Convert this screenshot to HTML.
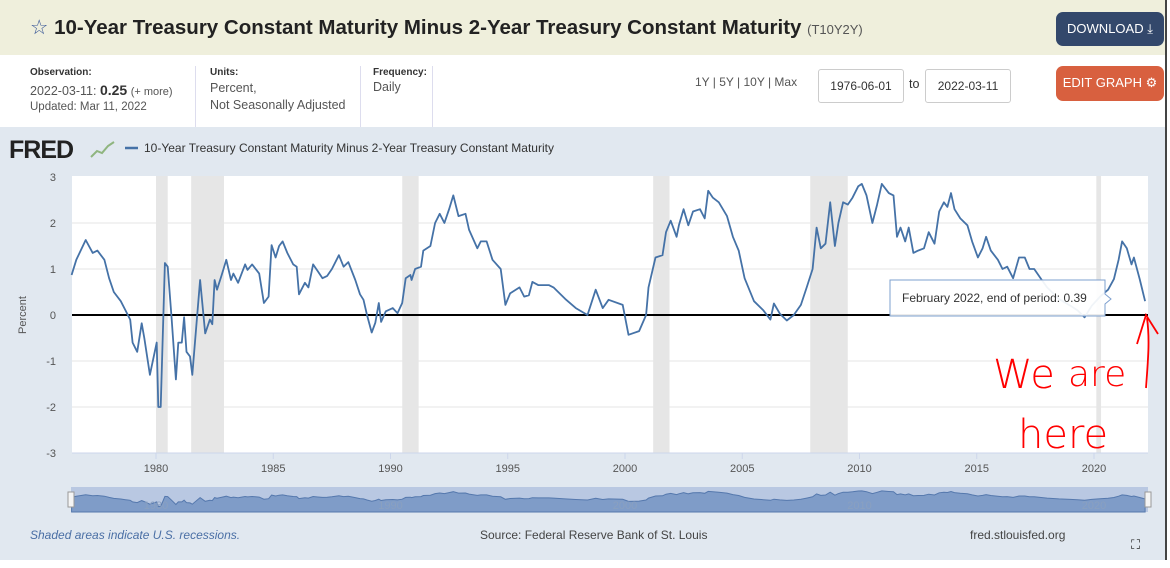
<!DOCTYPE html>
<html><head><meta charset="utf-8"><style>
body{margin:0;width:1170px;height:568px;overflow:hidden;background:#fff;font-family:"Liberation Sans","DejaVu Sans",sans-serif;position:relative}
.abs{position:absolute}
#hdr{left:0;top:0;width:1166px;height:55px;background:#efefdc}
#title{left:30px;top:15px;font-size:20.5px;font-weight:bold;color:#222;white-space:nowrap}
#title small{font-size:13px;font-weight:normal;color:#555}
.btn{color:#fff;font-size:13px;border-radius:7px;text-align:center;line-height:34px}
.lab{font-size:10px;font-weight:bold;color:#333}
.val{font-size:12.5px;color:#555}
.inp{border:1px solid #ccc;border-radius:3px;font-size:12px;color:#333;text-align:center;line-height:32px;height:32px}
#chartbg{left:0;top:127px;width:1166px;height:433px;background:#e1e8f0}
</style></head><body>
<div class="abs" id="hdr"></div>
<div class="abs" id="title"><span style="color:#3b5998;font-weight:normal">☆</span> 10-Year Treasury Constant Maturity Minus 2-Year Treasury Constant Maturity <small>(T10Y2Y)</small></div>
<div class="abs btn" style="left:1056px;top:12px;width:108px;height:34px;background:#33486b">DOWNLOAD ⤓</div>
<div class="abs lab" style="left:30px;top:67px">Observation:</div>
<div class="abs val" style="left:30px;top:82px">2022-03-11: <b style="font-size:14px;color:#333">0.25</b> <span style="font-size:11px">(+ more)</span></div>
<div class="abs val" style="left:30px;top:101px;font-size:11.5px">Updated: Mar 11, 2022</div>
<div class="abs" style="left:195px;top:66px;width:1px;height:61px;background:#dde"></div>
<div class="abs lab" style="left:210px;top:67px">Units:</div>
<div class="abs val" style="left:210px;top:80px;line-height:17px">Percent,<br>Not Seasonally Adjusted</div>
<div class="abs" style="left:360px;top:66px;width:1px;height:61px;background:#dde"></div>
<div class="abs lab" style="left:373px;top:67px">Frequency:</div>
<div class="abs val" style="left:373px;top:80px">Daily</div>
<div class="abs" style="left:432px;top:66px;width:1px;height:61px;background:#dde"></div>
<div class="abs val" style="left:695px;top:75px;font-size:12px">1Y | 5Y | 10Y | Max</div>
<div class="abs inp" style="left:818px;top:69px;width:84px">1976-06-01</div>
<div class="abs val" style="left:909px;top:77px;color:#333">to</div>
<div class="abs inp" style="left:925px;top:69px;width:84px">2022-03-11</div>
<div class="abs btn" style="left:1056px;top:66px;width:108px;height:35px;background:#d8603f">EDIT GRAPH ⚙</div>
<div class="abs" id="chartbg"></div>
<div class="abs" style="left:1165px;top:0;width:2px;height:560px;background:#444"></div>
<svg class="abs" style="left:0;top:0" width="1170" height="568" id="svg">
<text x="9" y="158" font-size="25" font-weight="bold" fill="#222" font-family="Liberation Sans,sans-serif" letter-spacing="-1">FRED</text>
<polyline points="91,157 97,151 102,153 108,146 114,142" fill="none" stroke="#8fb57f" stroke-width="2"/>
<line x1="125" y1="148" x2="138" y2="148" stroke="#4572a7" stroke-width="2.5"/>
<text x="144" y="152" font-size="12" fill="#333">10-Year Treasury Constant Maturity Minus 2-Year Treasury Constant Maturity</text>
<rect x="72" y="176" width="1076" height="277" fill="#fff"/>
<g id="rec"></g><g id="grid"></g><g id="ticks"></g>
<text transform="translate(26,315) rotate(-90)" text-anchor="middle" font-size="11" fill="#555">Percent</text>
<line x1="72" y1="453" x2="1148" y2="453" stroke="#ccd6eb"/>
<line x1="72" y1="315" x2="1148" y2="315" stroke="#000" stroke-width="2"/>
<path id="line" fill="none" stroke="#4572a7" stroke-width="1.8" stroke-linejoin="round"/>
<g>
<path d="M890,280 h215 v14 l6,5 l-6,5 v12 h-215 z" fill="#fff" fill-opacity="0.92" stroke="#7ea0cf"/>
<text x="902" y="302" font-size="12" fill="#333">February 2022, end of period: 0.39</text></g>
<g>
<text x="993" y="388" font-size="40" fill="#f00" font-family="DejaVu Sans,sans-serif" font-weight="200">We</text>
<text x="1068" y="386" font-size="36" fill="#f00" font-family="DejaVu Sans,sans-serif" font-weight="200">are</text>
<text x="1018" y="448" font-size="40" fill="#f00" font-family="DejaVu Sans,sans-serif" font-weight="200">here</text>
<path d="M1146,388 C1148,360 1150,340 1147,318 M1137,344 L1146,315 L1158,334" fill="none" stroke="#f00" stroke-width="1.8"/></g>
<rect x="71" y="487" width="1077" height="25" fill="#b9c8e2"/>
<path id="nav" fill="#7f9cc8" stroke="#5578ad" stroke-width="1"/>
<g id="navlab" font-size="11" fill="#8aa0c0"></g>
<rect x="68" y="492" width="6" height="15" fill="#f5f5f5" stroke="#999"/>
<rect x="1145" y="492" width="6" height="15" fill="#f5f5f5" stroke="#999"/>
<text x="30" y="539" font-size="12" fill="#4a6fa5" font-style="italic">Shaded areas indicate U.S. recessions.</text>
<text x="480" y="539" font-size="12" fill="#444">Source: Federal Reserve Bank of St. Louis</text>
<text x="970" y="539" font-size="12" fill="#444">fred.stlouisfed.org</text>
<text x="1131" y="549" font-size="13" fill="#222">⛶</text>
</svg>
<script>
const years=[1976.4,1976.6,1977.0,1977.3,1977.5,1977.8,1978.0,1978.2,1978.5,1978.7,1978.9,1979.0,1979.2,1979.39,1979.5,1979.74,1980.03,1980.1,1980.2,1980.38,1980.5,1980.67,1980.85,1980.95,1981.1,1981.2,1981.3,1981.45,1981.55,1981.88,1982.1,1982.3,1982.4,1982.5,1982.6,1982.8,1983.0,1983.2,1983.3,1983.5,1983.8,1983.9,1984.1,1984.4,1984.6,1984.8,1984.93,1985.1,1985.25,1985.4,1985.6,1985.85,1986.0,1986.1,1986.35,1986.5,1986.7,1986.9,1987.1,1987.3,1987.5,1987.8,1988.0,1988.2,1988.5,1988.7,1988.85,1989.0,1989.2,1989.35,1989.5,1989.6,1989.8,1990.1,1990.3,1990.5,1990.65,1990.85,1990.9,1991.05,1991.3,1991.4,1991.7,1991.9,1992.1,1992.3,1992.5,1992.68,1992.9,1993.2,1993.35,1993.7,1993.85,1994.1,1994.35,1994.7,1994.9,1995.1,1995.5,1995.7,1995.9,1996.05,1996.3,1996.75,1996.95,1997.45,1997.9,1998.4,1998.75,1999.05,1999.3,1999.9,2000.15,2000.6,2000.9,2001.0,2001.3,2001.6,2001.75,2001.95,2002.2,2002.3,2002.5,2002.7,2002.9,2003.2,2003.4,2003.55,2003.75,2004.0,2004.35,2004.6,2004.85,2005.1,2005.5,2005.9,2006.2,2006.35,2006.6,2006.9,2007.2,2007.5,2007.75,2008.0,2008.17,2008.35,2008.55,2008.75,2008.95,2009.1,2009.3,2009.5,2009.7,2009.95,2010.1,2010.3,2010.55,2010.75,2010.95,2011.25,2011.45,2011.6,2011.75,2011.95,2012.1,2012.3,2012.5,2012.75,2012.95,2013.2,2013.4,2013.6,2013.75,2013.9,2014.05,2014.3,2014.6,2014.8,2015.05,2015.25,2015.4,2015.6,2015.9,2016.1,2016.3,2016.55,2016.8,2017.05,2017.25,2017.45,2017.75,2018.0,2018.5,2019.0,2019.3,2019.6,2019.9,2020.26,2020.6,2020.85,2021.05,2021.2,2021.4,2021.6,2021.7,2021.95,2022.18];
const spread=[0.87,1.2,1.63,1.35,1.4,1.2,0.8,0.5,0.3,0.1,-0.1,-0.6,-0.8,-0.18,-0.5,-1.3,-0.6,-2.0,-2.0,1.13,1.05,-0.1,-1.4,-0.6,-0.6,-0.05,-0.8,-0.9,-1.3,0.76,-0.4,-0.1,-0.2,0.76,0.55,0.87,1.2,0.76,0.9,0.7,1.1,0.98,1.1,0.9,0.26,0.4,1.52,1.25,1.5,1.6,1.35,1.1,1.05,0.45,0.7,0.6,1.1,0.95,0.8,0.85,1.0,1.3,1.05,1.15,0.76,0.45,0.33,0.0,-0.38,-0.17,0.26,-0.15,0.08,0.15,0.04,0.26,0.8,0.87,0.76,1.0,1.05,1.4,1.5,2.0,2.2,2.0,2.3,2.6,2.15,2.2,1.85,1.45,1.6,1.6,1.2,1.0,0.22,0.47,0.6,0.4,0.43,0.72,0.65,0.65,0.6,0.35,0.15,0.0,0.55,0.15,0.33,0.22,-0.43,-0.35,0.0,0.6,1.25,1.3,1.8,2.05,1.7,1.95,2.3,1.95,2.25,2.3,2.1,2.7,2.55,2.45,2.15,1.7,1.4,0.8,0.3,0.1,-0.1,0.25,0.03,-0.12,0.0,0.22,0.6,1.0,1.9,1.45,1.55,2.45,1.5,2.0,2.45,2.4,2.55,2.8,2.85,2.6,2.0,2.4,2.85,2.65,2.6,1.7,1.9,1.6,1.9,1.35,1.4,1.45,1.8,1.55,2.25,2.45,2.35,2.65,2.3,2.1,1.95,1.6,1.25,1.45,1.7,1.4,1.2,1.0,1.05,0.8,1.25,1.25,1.0,1.0,0.78,0.6,0.35,0.2,0.1,-0.05,0.2,0.4,0.55,0.78,1.2,1.6,1.45,1.1,1.25,0.78,0.3];
const yTicks=[3,2,1,0,-1,-2,-3];
const xTicks=[1980,1985,1990,1995,2000,2005,2010,2015,2020];
const recStart=[1980.0,1981.5,1990.5,2001.2,2007.9,2020.1];
const recEnd=[1980.5,1982.9,1991.2,2001.9,2009.5,2020.3];
const NS='http://www.w3.org/2000/svg';
const X=yr=>156+(yr-1980)*23.45;
const Y=v=>315-46*v;
const NY=v=>500-v*3.2;
function mk(tag,attrs,parent,txt){const e=document.createElementNS(NS,tag);for(const k in attrs)e.setAttribute(k,attrs[k]);if(txt!==undefined)e.textContent=txt;document.getElementById(parent).appendChild(e);return e;}
recStart.forEach((s,i)=>{const r=mk('rect',{x:X(s),y:176,width:X(recEnd[i])-X(s),height:277,fill:'#e6e6e6'},'rec');

});
yTicks.forEach(v=>{if(v!==3&&v!==-3){const l=mk('line',{x1:72,x2:1148,y1:Y(v),y2:Y(v),stroke:'#e6e6e6'},'grid');}
const t=mk('text',{x:56,y:Y(v)+4,'text-anchor':'end','font-size':11,fill:'#555'},'ticks',String(v));

});
xTicks.forEach(yr=>{mk('line',{x1:X(yr),x2:X(yr),y1:453,y2:459,stroke:'#ccd6eb'},'ticks');
const t=mk('text',{x:X(yr),y:472,'text-anchor':'middle','font-size':11,fill:'#555'},'ticks',String(yr));


if(yr%10===0){mk('text',{x:X(yr),y:509,'text-anchor':'middle'},'navlab',String(yr));}});
let d='';years.forEach((yr,i)=>{d+=(i?'L':'M')+X(yr).toFixed(1)+','+Y(spread[i]).toFixed(1);});
document.getElementById('line').setAttribute('d',d);
let n='M'+X(years[0]).toFixed(1)+',512';years.forEach((yr,i)=>{n+='L'+X(yr).toFixed(1)+','+NY(spread[i]).toFixed(1);});
n+='L'+X(years[years.length-1]).toFixed(1)+',512Z';
document.getElementById('nav').setAttribute('d',n);
</script>
</body></html>
